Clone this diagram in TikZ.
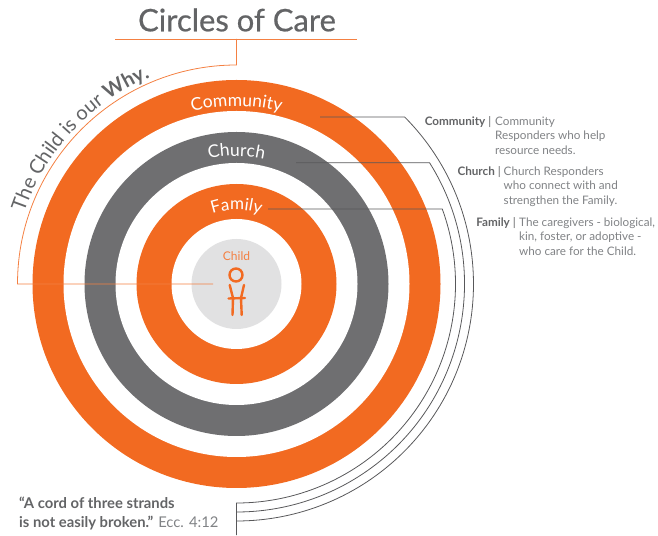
\documentclass[tikz,border=0pt]{standalone}
\usepackage{fontspec}
\usepackage{xcolor}
\setmainfont{Lato}
\newfontfamily\titlefont[FakeBold=0.6]{Lato}
\usetikzlibrary{decorations.text}
\definecolor{careorange}{HTML}{F26A21}
\definecolor{caregray}{HTML}{6F6F71}
\definecolor{carewire}{HTML}{58585A}
\definecolor{carelight}{HTML}{E1E1E2}
\definecolor{caretext}{HTML}{636466}
\definecolor{carepale}{HTML}{808285}
\tikzset{
  wire/.style={carewire, line width=0.8pt},
  whyline/.style={careorange!85!white, line width=0.8pt},
  keyhead/.style={anchor=north east, inner sep=0pt, text=caretext, font=\fontsize{11.7}{14.5}\selectfont},
  keybody/.style={anchor=north west, inner sep=0pt, align=left, text=carepale, font=\fontsize{11.7}{14.5}\selectfont},
  ringtext/.style={decorate, decoration={text along path, text align=center, text={#1}}},
  childline/.style={careorange, line width=2.4pt, line cap=round}
}
\begin{document}
\begin{tikzpicture}[x=1pt,y=1pt]
\useasboundingbox (0,0) rectangle (658,535);
\coordinate (hub) at (236.5,251);
% rings
\foreach \rad/\col in {204/careorange,173/white,152/caregray,121/white,100/careorange,65/white,45/carelight}
  \fill[\col] (hub) circle (\rad);
% title
\node[text=caretext, font=\fontsize{31}{33}\selectfont\titlefont] (title) at (237,515) {Circles of Care};
\coordinate (titleleft) at (115,496);
\coordinate (titleright) at (357,496);
\coordinate (titledrop) at (236.5,496);
\draw[whyline] (titleleft) -- (titleright);
% orange line from the title to the child
\coordinate (childhand) at (213,251);
\path (hub) ++(180:219) coordinate (whyend);
\draw[whyline] (childhand) -- (whyend) arc[start angle=180,end angle=90,radius=219] -- (titledrop);
% ring labels
\path (hub) ++(165:224) coordinate (whya);
\path[ringtext={|\fontsize{20}{22}\selectfont\color{caretext}|The Child is our |\fontsize{20}{22}\selectfont\bfseries\color{caretext}|Why.}]
  (whya) arc[start angle=165,end angle=109,radius=224];
\path (hub) ++(125:178) coordinate (coma);
\path[ringtext={|\fontsize{17.5}{18}\selectfont\color{white}|Community}]
  (coma) arc[start angle=125,end angle=55,radius=178];
\path (hub) ++(125:128) coordinate (chua);
\path[ringtext={|\fontsize{17.5}{18}\selectfont\color{white}|Church}]
  (chua) arc[start angle=125,end angle=55,radius=128];
\path (hub) ++(135:74) coordinate (fama);
\path[ringtext={|\fontsize{17}{18}\selectfont\color{white}|Family}]
  (fama) arc[start angle=135,end angle=45,radius=74];
% grey lines
\coordinate (drop) at (236.5,0);
\coordinate (comstart) at (320,0);
\coordinate (chustart) at (296,0);
\coordinate (famstart) at (268,0);
\path (hub) ++(44.8:237) coordinate (combend);
\path (hub) ++(32.1:228) coordinate (chubend);
\path (hub) ++(20:219) coordinate (fambend);
\draw[wire] (comstart |- combend) -- (combend) arc[start angle=44.8,end angle=-90,radius=237];
\draw[wire] (chustart |- chubend) -- (chubend) arc[start angle=32.1,end angle=-90,radius=228];
\draw[wire] (famstart |- fambend) -- (fambend) arc[start angle=20,end angle=-90,radius=219] -- (drop);
% key
\node[keyhead] (comkey) at (491.5,418.5) {\textbf{Community} |};
\node[keybody] (combody) at (495,418.5) {Community\\Responders who help\\resource needs.};
\node[keyhead] (chukey) at (501,368.5) {\textbf{Church} |};
\node[keybody] (chubody) at (503.5,368.5) {Church Responders\\who connect with and\\strengthen the Family.};
\node[keyhead] (famkey) at (516,317.5) {\textbf{Family} |};
\node[keybody] (fambody) at (519,317.5) {The caregivers - biological,\\kin, foster, or adoptive -\\who care for the Child.};
% child
\node[text=careorange!85!white, font=\fontsize{12}{12}\selectfont] (childname) at (236.5,279) {Child};
\draw[childline] (236,260) circle (6.5);
\draw[childline] (229.7,250) -- (233,237) -- (232.5,220);
\draw[childline] (244,250) -- (241,237) -- (241.7,220);
\draw[childline] (228.5,236.5) -- (245,237);
% quote
\node[anchor=base west, inner sep=0pt, text=caretext, font=\fontsize{14.8}{17}\selectfont\bfseries] (quotea) at (19,26.5) {“A cord of three strands};
\node[anchor=base west, inner sep=0pt, text=caretext, font=\fontsize{14.8}{17}\selectfont] (quoteb) at (19,8) {\textbf{is not easily broken.”} \textcolor{carepale}{Ecc. 4:12}};
\end{tikzpicture}
\end{document}
